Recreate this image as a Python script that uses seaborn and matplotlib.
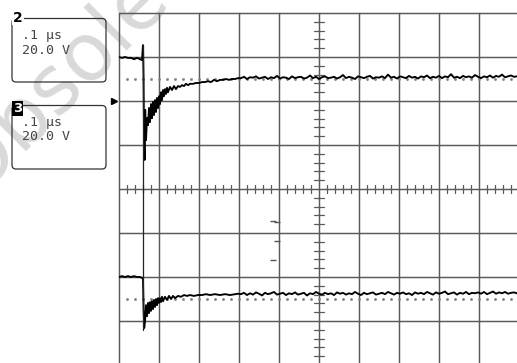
import numpy as np
import matplotlib
matplotlib.use("Agg")
import matplotlib.pyplot as plt
from matplotlib.patches import FancyBboxPatch
import seaborn as sns

# --- channel settings shown in the side panels
channels = ["2", "3"]
time_base = [".1 µs", ".1 µs"]
volt_scale = ["20.0 V", "20.0 V"]

# --- traces: time in µs, level in divisions
ch2_t = [0.0, 0.0075, 0.015, 0.0225, 0.03, 0.0375, 0.045, 0.0525, 0.0575, 0.06,
         0.0613, 0.0625, 0.064, 0.0655, 0.0675, 0.07, 0.0725, 0.075, 0.0775, 0.08,
         0.0825, 0.085, 0.0875, 0.09, 0.0925, 0.095, 0.0975, 0.1, 0.1025, 0.105,
         0.1075, 0.11, 0.1125, 0.115, 0.1175, 0.12, 0.1225, 0.1275, 0.1325, 0.1375,
         0.1425, 0.1475, 0.1525, 0.1575, 0.1625, 0.1675, 0.1725, 0.1775, 0.185, 0.1925,
         0.2, 0.2075, 0.215, 0.2225, 0.23, 0.2375, 0.245, 0.2525, 0.26, 0.2675,
         0.275, 0.2825, 0.29, 0.2975]
ch2_div = [3.00, 2.98, 3.00, 2.98, 2.98, 2.95, 2.98, 2.95, 2.93, 3.27,
           2.59, 1.23, 0.66, 1.80, 1.11, 1.61, 1.45, 1.84, 1.52, 1.93,
           1.61, 1.98, 1.68, 2.02, 1.75, 2.07, 1.84, 2.11, 1.93, 2.20,
           2.02, 2.25, 2.11, 2.27, 2.16, 2.30, 2.20, 2.32, 2.25, 2.34,
           2.27, 2.34, 2.32, 2.36, 2.34, 2.39, 2.36, 2.39, 2.39, 2.41,
           2.41, 2.43, 2.43, 2.45, 2.43, 2.48, 2.45, 2.48, 2.48, 2.50,
           2.48, 2.50, 2.50, 2.52]
ch2_tail = [2.52, 2.55, 2.50, 2.54, 2.53, 2.56, 2.51, 2.53, 2.55, 2.50,
            2.54, 2.52, 2.57, 2.51, 2.54, 2.53, 2.50, 2.56, 2.52, 2.54,
            2.55, 2.51, 2.53, 2.58, 2.52, 2.55, 2.50, 2.54, 2.56, 2.52,
            2.53, 2.55, 2.51, 2.54, 2.59, 2.52, 2.55, 2.53, 2.50, 2.56,
            2.54, 2.52, 2.55, 2.57, 2.51, 2.54, 2.53, 2.56, 2.52, 2.60,
            2.53, 2.55, 2.51, 2.56, 2.54, 2.52, 2.57, 2.53, 2.55, 2.51,
            2.56, 2.54, 2.58, 2.52, 2.55, 2.53, 2.57, 2.52, 2.56, 2.54,
            2.61, 2.53, 2.55, 2.52, 2.57, 2.54, 2.56, 2.53, 2.59, 2.55,
            2.52, 2.56, 2.54, 2.58, 2.53, 2.57, 2.55, 2.60, 2.54, 2.56,
            2.58, 2.55, 2.56, 2.54]

ch3_t = [0.0, 0.0075, 0.015, 0.0225, 0.03, 0.0375, 0.045, 0.0525, 0.0575, 0.06,
         0.0615, 0.063, 0.065, 0.0675, 0.07, 0.0725, 0.075, 0.0775, 0.08, 0.0825,
         0.085, 0.0875, 0.09, 0.0925, 0.095, 0.0975, 0.1, 0.1025, 0.105, 0.1075,
         0.11, 0.115, 0.12, 0.125, 0.13, 0.135, 0.14, 0.1475, 0.155, 0.1625,
         0.17, 0.1775, 0.1875, 0.1975, 0.2075, 0.2175, 0.2275, 0.24, 0.2525, 0.265,
         0.2775, 0.29, 0.2975]
ch3_div = [-2.00, -1.98, -2.00, -1.98, -2.00, -1.98, -2.00, -2.00, -2.02, -2.05,
           -2.75, -3.16, -3.02, -2.64, -2.89, -2.59, -2.82, -2.57, -2.77, -2.55,
           -2.73, -2.52, -2.68, -2.50, -2.64, -2.48, -2.59, -2.48, -2.57, -2.45,
           -2.55, -2.45, -2.52, -2.43, -2.50, -2.43, -2.48, -2.43, -2.45, -2.41,
           -2.43, -2.41, -2.43, -2.41, -2.41, -2.39, -2.41, -2.39, -2.41, -2.39,
           -2.41, -2.39, -2.38]
ch3_tail = [-2.39, -2.36, -2.41, -2.37, -2.40, -2.35, -2.38, -2.42, -2.36, -2.39,
            -2.37, -2.34, -2.40, -2.38, -2.36, -2.41, -2.37, -2.39, -2.35, -2.40,
            -2.38, -2.36, -2.42, -2.37, -2.39, -2.34, -2.38, -2.40, -2.36, -2.39,
            -2.37, -2.41, -2.35, -2.38, -2.36, -2.40, -2.37, -2.39, -2.34, -2.38,
            -2.41, -2.36, -2.39, -2.37, -2.35, -2.40, -2.38, -2.36, -2.39, -2.34,
            -2.37, -2.40, -2.36, -2.38, -2.35, -2.39, -2.37, -2.41, -2.35, -2.38,
            -2.36, -2.39, -2.34, -2.37, -2.40, -2.35, -2.38, -2.36, -2.33, -2.39,
            -2.37, -2.35, -2.40, -2.36, -2.38, -2.34, -2.39, -2.36, -2.37, -2.35,
            -2.38, -2.34, -2.39, -2.36, -2.33, -2.38, -2.35, -2.37, -2.34, -2.38,
            -2.36, -2.35, -2.37, -2.35]
tail_start = 0.305
tail_step = 0.0075

ref_levels = [2.5, -2.5]        # dotted reference lines
ground_ch2 = 2.0                # ground marker of channel 2
trigger_t = 0.06                # trigger line
trigger_span = [3.27, -3.2]
stray_t = [0.395, 0.385, 0.395, 0.385]
stray_div = [-0.75, -0.73, -1.18, -1.61]

us_per_div = 0.1


def full_trace(t, v, tail):
    tt = tail_start + tail_step * np.arange(len(tail))
    return np.concatenate([t, tt]) / us_per_div, np.concatenate([v, tail])


sns.set_style("white")
plt.rcParams["font.family"] = ["DejaVu Sans"]

fig = plt.figure(figsize=(5.17, 3.63), dpi=100)

# overlay in pixel units for the side panels and the watermark
ov = fig.add_axes([0, 0, 1, 1])
ov.set_xlim(0, 517)
ov.set_ylim(363, 0)
ov.axis("off")
ov.set_zorder(0)

ax = fig.add_axes([119 / 517, -2 / 363, 400 / 517, 352 / 363])
ax.set_xlim(0, 10)
ax.set_ylim(-4, 4)
ax.axis("off")
ax.set_zorder(1)

# watermark
ov.text(-24, 197, "Obsolete", rotation=45, rotation_mode="anchor",
        ha="left", va="baseline", fontsize=58, color="#d9d9d9", zorder=0)

# graticule
grid_c = "#5a5a5a"
for i in range(11):
    ax.axvline(i, color=grid_c, lw=1.05, clip_on=False, zorder=1)
for j in range(-4, 5):
    ax.axhline(j, color=grid_c, lw=1.05, clip_on=False, zorder=1)
for v in np.arange(-4, 4.001, 0.2):
    if abs(v - round(v)) > 0.05:
        ax.plot([4.875, 5.125], [v, v], color=grid_c, lw=0.9, zorder=1)
for u in np.arange(0, 10.001, 0.2):
    if abs(u - round(u)) > 0.05:
        ax.plot([u, u], [-0.09, 0.09], color=grid_c, lw=0.9, zorder=1)

# reference dots
dots = np.arange(0.2, 10, 0.2)
for lvl in ref_levels:
    ax.plot(dots, [lvl] * len(dots), ls="none", marker="s", ms=0.9,
            color="#808080", zorder=2)

# traces
x2, y2 = full_trace(ch2_t, ch2_div, ch2_tail)
x3, y3 = full_trace(ch3_t, ch3_div, ch3_tail)
sns.lineplot(x=x2, y=y2, ax=ax, color="black", lw=1.35, estimator=None, sort=False, zorder=3)
sns.lineplot(x=x3, y=y3, ax=ax, color="black", lw=1.35, estimator=None, sort=False, zorder=3)
ax.plot([trigger_t / us_per_div] * 2, trigger_span, color="#222222", lw=0.9, zorder=3)
ax.plot(np.array(stray_t) / us_per_div, stray_div, ls="none", marker="_", ms=4,
        mew=1, color="#555555", zorder=3)
ax.plot([-0.12], [ground_ch2], marker=">", ms=5, color="black", clip_on=False, zorder=4)
ax.set_xlim(0, 10)
ax.set_ylim(-4, 4)

# side panels
panel_top = [18.5, 105.5]
for k, top in enumerate(panel_top):
    box = FancyBboxPatch((12, top), 94, 63.5, boxstyle="round,pad=0,rounding_size=4",
                         fc="none", ec="#333333", lw=0.9, zorder=2)
    ov.add_patch(box)
    if k == 0:
        ov.text(18, top - 1, channels[k], fontsize=10, fontweight="bold", ha="center",
                va="center", color="black", zorder=3,
                bbox=dict(fc="white", ec="none", pad=0.6))
    else:
        ov.text(17.5, top + 3, channels[k], fontsize=9.5, fontweight="bold", ha="center",
                va="center", color="white", zorder=3,
                bbox=dict(fc="black", ec="none", pad=0.8))
    ov.text(22, top + 17, time_base[k], family="DejaVu Sans Mono", fontsize=9.5,
            color="#444444", ha="left", va="center", zorder=3)
    ov.text(22, top + 31.5, volt_scale[k], family="DejaVu Sans Mono", fontsize=9.5,
            color="#444444", ha="left", va="center", zorder=3)

fig.savefig("out.png", dpi=100)
